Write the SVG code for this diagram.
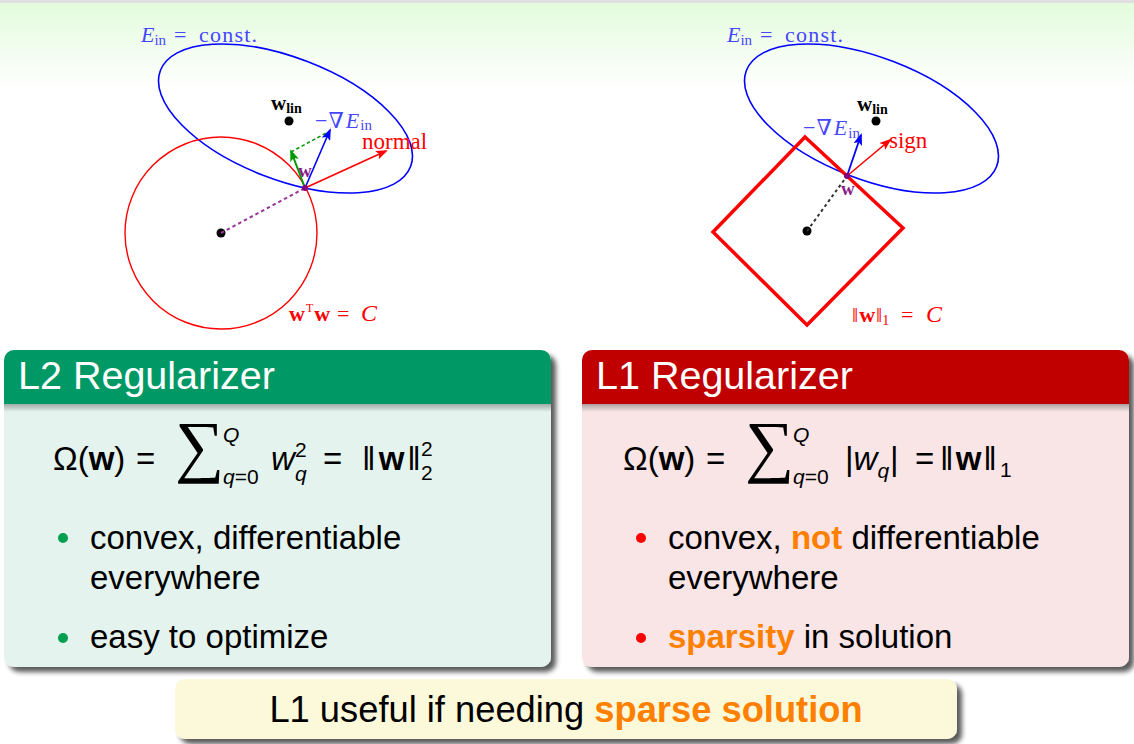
<svg xmlns="http://www.w3.org/2000/svg" width="1134" height="744" viewBox="0 0 1134 744">
<defs>
<linearGradient id="topg" x1="0" y1="0" x2="0" y2="1">
<stop offset="0" stop-color="#e3fbdc"/>
<stop offset="1" stop-color="#ffffff"/>
</linearGradient>
<linearGradient id="hsh" x1="0" y1="0" x2="0" y2="1">
<stop offset="0" stop-color="#000" stop-opacity="0.3"/>
<stop offset="1" stop-color="#000" stop-opacity="0"/>
</linearGradient>
<filter id="sh" x="-5%" y="-5%" width="112%" height="120%">
<feGaussianBlur in="SourceAlpha" stdDeviation="2.5"/>
<feOffset dx="5" dy="5" result="o"/>
<feComponentTransfer><feFuncA type="linear" slope="0.65"/></feComponentTransfer>
<feMerge><feMergeNode/><feMergeNode in="SourceGraphic"/></feMerge>
</filter>
<marker id="ar" markerUnits="userSpaceOnUse" markerWidth="12" markerHeight="9" refX="10" refY="4.5" orient="auto"><path d="M0,0 L12,4.5 L0,9 L2.5,4.5 z" fill="#ff0000"/></marker>
<marker id="ab" markerUnits="userSpaceOnUse" markerWidth="12" markerHeight="9" refX="10" refY="4.5" orient="auto"><path d="M0,0 L12,4.5 L0,9 L2.5,4.5 z" fill="#0000ff"/></marker>
<marker id="ag" markerUnits="userSpaceOnUse" markerWidth="12" markerHeight="9" refX="10" refY="4.5" orient="auto"><path d="M0,0 L12,4.5 L0,9 L2.5,4.5 z" fill="#009900"/></marker>
</defs>
<style>
.s{font-family:"Liberation Serif","DejaVu Serif",serif}
.a{font-family:"Liberation Sans","DejaVu Sans",sans-serif}
.blue{fill:#4646ff}
.red{fill:#ff0000}
.pur{fill:#8a1a8a}
.b{font-weight:bold}
.i{font-style:italic}
.tit{font-size:39.5px;fill:#ffffff}
.bt{font-size:33px;fill:#000}
.f{font-size:33px;fill:#000}
.fs{font-size:21px;fill:#000}
.sum{font-size:69px;fill:#000}
.org{fill:#ff8000;font-weight:bold}
</style>
<rect width="1134" height="744" fill="#ffffff"/>
<rect x="0" y="3" width="1134" height="85" fill="url(#topg)"/>
<rect x="0" y="0" width="1134" height="3" fill="#e0e0e0"/>

<g id="left-diagram">
<ellipse cx="285.5" cy="118.5" rx="134" ry="61" transform="rotate(21 285.5 118.5)" fill="none" stroke="#0000ff" stroke-width="1.6"/>
<circle cx="221" cy="233" r="96" fill="none" stroke="#ff0000" stroke-width="1.4"/>
<circle cx="221" cy="233" r="4.5" fill="#000"/>
<circle cx="289" cy="121" r="4.5" fill="#000"/>
<text class="s blue" x="141" y="42" font-size="22"><tspan class="i">E</tspan><tspan font-size="15" dy="3">in</tspan><tspan x="174" dy="-3">=</tspan><tspan x="199" textLength="58" lengthAdjust="spacing">const.</tspan></text>
<text class="s" x="271" y="110" font-size="21"><tspan class="b">w</tspan><tspan class="b" font-size="14" dy="3">lin</tspan></text>
<text class="s blue" x="315" y="128" font-size="22">−<tspan dx="1">∇</tspan><tspan class="i" dx="2">E</tspan><tspan font-size="15" dy="2" dx="1">in</tspan></text>
<text class="s red" x="362" y="149" font-size="23">normal</text>
<text class="s pur b" x="298" y="177" font-size="19">w</text>
<text class="s red" x="289" y="321" font-size="22"><tspan class="b">w</tspan><tspan font-size="12" dy="-9" dx="1">T</tspan><tspan class="b" dy="9" dx="1">w</tspan><tspan x="337">=</tspan><tspan x="361" class="i" font-size="24">C</tspan></text>
</g>

<g id="right-diagram">
<ellipse cx="871.5" cy="118.5" rx="134" ry="61" transform="rotate(21 871.5 118.5)" fill="none" stroke="#0000ff" stroke-width="1.6"/>
<polygon points="805,137 903,228 807,325 713,232" fill="none" stroke="#ff0000" stroke-width="3.5" stroke-linejoin="miter"/>
<circle cx="807" cy="231" r="4.5" fill="#000"/>
<circle cx="876" cy="121" r="4.5" fill="#000"/>
<text class="s blue" x="727" y="42" font-size="22"><tspan class="i">E</tspan><tspan font-size="15" dy="3">in</tspan><tspan x="760" dy="-3">=</tspan><tspan x="785" textLength="58" lengthAdjust="spacing">const.</tspan></text>
<text class="s" x="857" y="111" font-size="21"><tspan class="b">w</tspan><tspan class="b" font-size="14" dy="3">lin</tspan></text>
<text class="s blue" x="803" y="135" font-size="22">−<tspan dx="1">∇</tspan><tspan class="i" dx="2">E</tspan><tspan font-size="15" dy="3" dx="1">in</tspan></text>
<text class="s red" x="889" y="148" font-size="23">sign</text>
<text class="s pur b" x="841" y="195" font-size="19">w</text>
<text class="s red" x="852" y="322" font-size="22">‖<tspan class="b" dx="1">w</tspan><tspan dx="1">‖</tspan><tspan font-size="14" dy="3">1</tspan><tspan x="901" dy="-3">=</tspan><tspan x="926" class="i" font-size="24">C</tspan></text>
</g>

<g id="connectors">
<line x1="221" y1="233" x2="305" y2="188" stroke="#993399" stroke-width="2" stroke-dasharray="3.5 3"/>
<line x1="291" y1="152" x2="328" y2="132" stroke="#009900" stroke-width="1.5" stroke-dasharray="3.5 2.5"/>
<line x1="305" y1="188" x2="386" y2="151" stroke="#ff0000" stroke-width="1.6" marker-end="url(#ar)"/>
<line x1="305" y1="188" x2="330" y2="130" stroke="#0000ff" stroke-width="1.6" marker-end="url(#ab)"/>
<line x1="305" y1="188" x2="291" y2="151" stroke="#009900" stroke-width="2" marker-end="url(#ag)"/>
<circle cx="305" cy="188" r="3" fill="#800080"/>
<line x1="807" y1="231" x2="847" y2="176" stroke="#333" stroke-width="2" stroke-dasharray="3 3"/>
<line x1="847" y1="176" x2="861" y2="135" stroke="#0000ff" stroke-width="1.8" marker-end="url(#ab)"/>
<line x1="847" y1="176" x2="890" y2="140" stroke="#ff0000" stroke-width="1.6" marker-end="url(#ar)"/>
<circle cx="847" cy="176" r="3" fill="#800080"/>
</g>

<g id="l2-box">
<rect x="4" y="350" width="547" height="317" rx="10" fill="#e5f3ee" filter="url(#sh)"/>
<path d="M4,404 V360 A10,10 0 0 1 14,350 H541 A10,10 0 0 1 551,360 V404 Z" fill="#009966"/>
<rect x="4" y="404" width="547" height="8" fill="url(#hsh)"/>
<text class="a tit" x="18" y="389">L2 Regularizer</text>
<text class="a f" x="53" y="470">Ω(<tspan class="b">w</tspan>)</text>
<text class="a f" x="136" y="470">=</text>
<text class="s sum" x="175" y="469">∑</text>
<text class="a fs i" x="223" y="442">Q</text>
<text class="a fs" x="223" y="484"><tspan class="i">q</tspan>=0</text>
<text class="a f i" x="271" y="470">w</text>
<text class="a fs" x="295" y="457">2</text>
<text class="a fs i" x="295" y="481">q</text>
<text class="a f" x="323" y="470">=</text>
<text class="a f" x="362" y="470">‖<tspan class="b" dx="3">w</tspan><tspan dx="3">‖</tspan></text>
<text class="a fs" x="421" y="456">2</text>
<text class="a fs" x="421" y="480">2</text>
<circle cx="63" cy="538" r="5" fill="#00a050"/>
<text class="a bt" x="90" y="549">convex, differentiable</text>
<text class="a bt" x="90" y="589">everywhere</text>
<circle cx="63" cy="638" r="5" fill="#00a050"/>
<text class="a bt" x="90" y="648">easy to optimize</text>
</g>

<g id="l1-box">
<rect x="582" y="350" width="547" height="317" rx="10" fill="#f9e5e5" filter="url(#sh)"/>
<path d="M582,404 V360 A10,10 0 0 1 592,350 H1119 A10,10 0 0 1 1129,360 V404 Z" fill="#c00000"/>
<rect x="582" y="404" width="547" height="8" fill="url(#hsh)"/>
<text class="a tit" x="596" y="389">L1 Regularizer</text>
<text class="a f" x="623" y="470">Ω(<tspan class="b">w</tspan>)</text>
<text class="a f" x="706" y="470">=</text>
<text class="s sum" x="745" y="469">∑</text>
<text class="a fs i" x="793" y="442">Q</text>
<text class="a fs" x="793" y="484"><tspan class="i">q</tspan>=0</text>
<text class="a f" x="845" y="470">|<tspan class="i">w</tspan><tspan class="i" font-size="21" dy="8">q</tspan><tspan dy="-8" dx="1">|</tspan></text>
<text class="a f" x="915" y="470">=</text>
<text class="a f" x="940" y="470">‖<tspan class="b" dx="2">w</tspan><tspan dx="2">‖</tspan><tspan font-size="21" dy="7" dx="3">1</tspan></text>
<circle cx="641" cy="538" r="5" fill="#ff0000"/>
<text class="a bt" x="668" y="549">convex, <tspan class="org">not</tspan> differentiable</text>
<text class="a bt" x="668" y="589">everywhere</text>
<circle cx="641" cy="638" r="5" fill="#ff0000"/>
<text class="a bt" x="668" y="648"><tspan class="org">sparsity</tspan> in solution</text>
</g>

<g id="summary-box">
<rect x="175" y="679" width="782" height="60" rx="10" fill="#fcf9da" filter="url(#sh)"/>
<text class="a" x="566" y="722" font-size="36.3" text-anchor="middle" fill="#000">L1 useful if needing <tspan class="org">sparse solution</tspan></text>
</g>
</svg>
